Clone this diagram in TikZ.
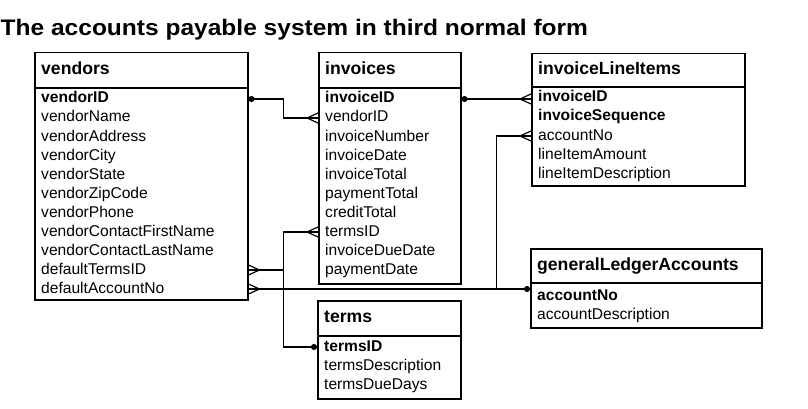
\documentclass[tikz,border=0pt]{standalone}
\usepackage{fontspec}
\usepackage{graphicx}
\setmainfont{Liberation Sans}
\usetikzlibrary{arrows.meta,calc}

\tikzset{
  tbl/.style={draw, line width=1.5pt, inner sep=0pt, anchor=north west},
  hdr/.style={anchor=west, inner sep=0pt, text height=13pt, text depth=4pt,
    font=\fontsize{17.6}{20}\selectfont\bfseries},
  fld/.style={anchor=west, inner sep=0pt, text height=11pt, text depth=3pt,
    font=\fontsize{15.6}{18}\selectfont},
  conn/.style={line width=1.2pt},
  dot/.tip={Circle[length=6pt]},
  crow/.pic={\draw[conn] (-11,0) -- (0,5) (-11,0) -- (0,-5);}
}

\begin{document}
\begin{tikzpicture}[x=1pt,y=-1pt]
  \useasboundingbox (0,0) rectangle (808,409);
  \node[anchor=base west, inner sep=0pt, font=\fontsize{22.5}{26}\selectfont\bfseries] (title) at (0.5,36)
    {\scalebox{1.09}[1]{The accounts payable system in third normal form}};

  % tables
  \node[tbl, minimum width=213, minimum height=247] (vendors) at (34,52) {};
  \draw[line width=1.5pt] (vendors.west |- 0,88) -- (vendors.east |- 0,88);
  \node[hdr] (vendorsHdr) at (41,70) {vendors};
  \foreach \t [count=\i from 0] in {\textbf{vendorID},vendorName,vendorAddress,vendorCity,vendorState,
      vendorZipCode,vendorPhone,vendorContactFirstName,vendorContactLastName,defaultTermsID,defaultAccountNo}
    \node[fld] (v\i) at (41,99+19*\i) {\t};

  \node[tbl, minimum width=142, minimum height=231] (invoices) at (318,52) {};
  \draw[line width=1.5pt] (invoices.west |- 0,88) -- (invoices.east |- 0,88);
  \node[hdr] (invoicesHdr) at (325,70) {invoices};
  \foreach \t [count=\i from 0] in {\textbf{invoiceID},vendorID,invoiceNumber,invoiceDate,invoiceTotal,
      paymentTotal,creditTotal,termsID,invoiceDueDate,paymentDate}
    \node[fld] (i\i) at (325,99+19*\i) {\t};

  \node[tbl, minimum width=213, minimum height=132] (items) at (531,53) {};
  \draw[line width=1.5pt] (items.west |- 0,87) -- (items.east |- 0,87);
  \node[hdr] (itemsHdr) at (538,70) {invoiceLineItems};
  \foreach \t [count=\i from 0] in {\textbf{invoiceID},\textbf{invoiceSequence},accountNo,
      lineItemAmount,lineItemDescription}
    \node[fld] (l\i) at (538,98+19*\i) {\t};

  \node[tbl, minimum width=231, minimum height=79] (gla) at (530,248) {};
  \draw[line width=1.5pt] (gla.west |- 0,283) -- (gla.east |- 0,283);
  \node[hdr] (glaHdr) at (537,265.5) {generalLedgerAccounts};
  \foreach \t [count=\i from 0] in {\textbf{accountNo},accountDescription}
    \node[fld] (g\i) at (537,296+19*\i) {\t};

  \node[tbl, minimum width=143, minimum height=98] (terms) at (317,300) {};
  \draw[line width=1.5pt] (terms.west |- 0,336) -- (terms.east |- 0,336);
  \node[hdr] (termsHdr) at (324,318) {terms};
  \foreach \t [count=\i from 0] in {\textbf{termsID},termsDescription,termsDueDays}
    \node[fld] (t\i) at (324,347+19*\i) {\t};

  % relationships
  \coordinate (midL) at ($(vendors.east)!0.5!(invoices.west)$);
  \coordinate (midR) at ($(invoices.east)!0.5!(items.west)$);
  \draw[conn, dot-] (vendors.east |- v0) -| (midL |- i1) -- (invoices.west |- i1);
  \draw[conn, dot-] (invoices.east |- i0) -- (items.west |- i0);
  \draw[conn, dot-] (terms.west |- t0) -| (midL |- i7) -- (invoices.west |- i7);
  \draw[conn] (vendors.east |- v9) -- (midL |- v9);
  \draw[conn, -dot] (vendors.east |- v10) -- (gla.west |- v10);
  \draw[conn] (items.west |- l2) -| (midR |- v10);
  \path (invoices.west |- i1) pic{crow} (invoices.west |- i7) pic{crow}
        (items.west |- i0) pic{crow} (items.west |- l2) pic{crow}
        (vendors.east |- v9) pic[rotate=180]{crow} (vendors.east |- v10) pic[rotate=180]{crow};
\end{tikzpicture}
\end{document}
